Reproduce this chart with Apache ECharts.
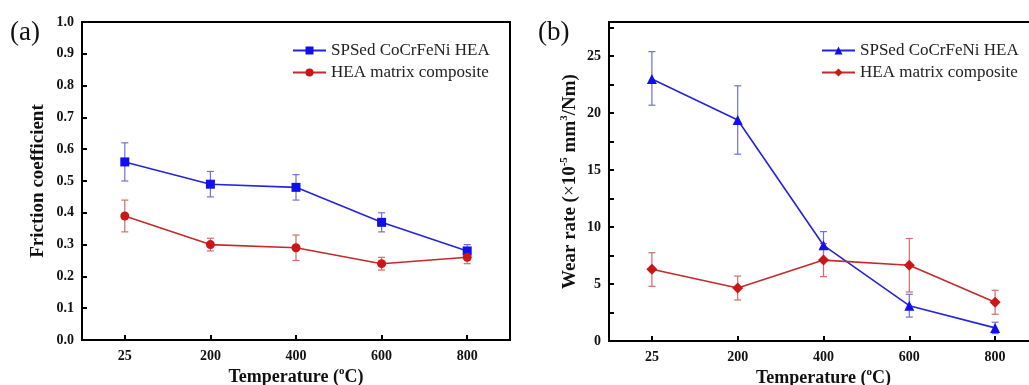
<!DOCTYPE html>
<html><head><meta charset="utf-8">
<script src="https://cdn.jsdelivr.net/npm/echarts@6/dist/echarts.min.js"></script>
<style>html,body{margin:0;padding:0;background:#fff}#c{width:1029px;height:385px}</style>
</head><body><div id="c"></div>
<script>
const categories = ['25', '200', '400', '600', '800'];
const frictionTicks = [0, 1.0, 0.1];
const wearTicks = [0, 28, 5];

const frictionHEA = [0.56, 0.49, 0.48, 0.37, 0.28];
const frictionHEALow = [0.50, 0.45, 0.44, 0.34, 0.26];
const frictionHEAHigh = [0.62, 0.53, 0.52, 0.40, 0.30];
const frictionComp = [0.39, 0.30, 0.29, 0.24, 0.26];
const frictionCompLow = [0.34, 0.28, 0.25, 0.22, 0.24];
const frictionCompHigh = [0.44, 0.32, 0.33, 0.26, 0.28];

const wearHEA = [23.0, 19.4, 8.4, 3.1, 1.15];
const wearHEALow = [20.7, 16.4, 7.2, 2.1, 0.65];
const wearHEAHigh = [25.4, 22.4, 9.6, 4.1, 1.65];
const wearComp = [6.3, 4.65, 7.1, 6.65, 3.4];
const wearCompLow = [4.8, 3.6, 5.65, 4.3, 2.35];
const wearCompHigh = [7.75, 5.7, 8.55, 9.0, 4.45];

const BLUE = '#1010ee', BLUE_LINE = '#2424dc', BLUE_ERR = '#7070d8';
const RED = '#cc1515', RED_LINE = '#c42a2a', RED_ERR = '#d46a6a';
const FONT = '"Liberation Serif", "Times New Roman", serif';

function errData(lo, hi) { return lo.map((v, i) => [i, v, hi[i]]); }
function errSeries(xi, yi, lo, hi, color) {
  return {
    type: 'custom', xAxisIndex: xi, yAxisIndex: yi, z: 1, silent: true,
    encode: { x: 0, y: [1, 2] },
    data: errData(lo, hi),
    renderItem: function (params, api) {
      const x = api.value(0);
      const p1 = api.coord([x, api.value(2)]);
      const p2 = api.coord([x, api.value(1)]);
      const w = 3.5;
      const st = { stroke: color, lineWidth: 1.2 };
      return { type: 'group', children: [
        { type: 'line', shape: { x1: p1[0], y1: p1[1], x2: p2[0], y2: p2[1] }, style: st },
        { type: 'line', shape: { x1: p1[0] - w, y1: p1[1], x2: p1[0] + w, y2: p1[1] }, style: st },
        { type: 'line', shape: { x1: p2[0] - w, y1: p2[1], x2: p2[0] + w, y2: p2[1] }, style: st }
      ]};
    }
  };
}
function lineSeries(name, xi, yi, data, symbol, size, color, lineColor) {
  return {
    name: name, type: 'line', xAxisIndex: xi, yAxisIndex: yi, z: 3,
    data: data, symbol: symbol, symbolSize: size, showSymbol: true,
    itemStyle: { color: color, borderWidth: 0 },
    lineStyle: { color: lineColor, width: 1.6 },
    animation: false
  };
}
const axisLineStyle = { show: true, lineStyle: { color: '#000', width: 2 } };
const supStyle = { fontFamily: FONT, fontWeight: 'bold', fontSize: 11, color: '#111', verticalAlign: 'top', lineHeight: 12, padding: [0, 0, 0, 0] };
function xAxis(gi) {
  return {
    type: 'category', gridIndex: gi, data: categories, boundaryGap: true,
    axisLine: axisLineStyle,
    axisTick: { show: true, inside: true, alignWithLabel: true, length: 5, lineStyle: { color: '#000', width: 2 } },
    axisLabel: { fontFamily: FONT, fontWeight: 'bold', fontSize: 14, color: '#111', margin: 9 },
    name: '{t|Temperature (}{s|o}{t|C)}', nameLocation: 'middle', nameGap: 26, nameMoveOverlap: false,
    nameTextStyle: { rich: {
      t: { fontFamily: FONT, fontWeight: 'bold', fontSize: 18, color: '#111', lineHeight: 22 },
      s: supStyle
    } },
    splitLine: { show: false }
  };
}
const option = {
  animation: false,
  backgroundColor: '#fff',
  grid: [
    { left: 82, top: 22, width: 428, height: 318, show: true, borderColor: '#000', borderWidth: 2,
      containLabel: false, outerBoundsMode: 'none' },
    { left: 609, top: 22, width: 429, height: 319, show: true, borderColor: '#000', borderWidth: 2,
      containLabel: false, outerBoundsMode: 'none' }
  ],
  xAxis: [xAxis(0), xAxis(1)],
  yAxis: [
    {
      type: 'value', gridIndex: 0, min: frictionTicks[0], max: frictionTicks[1], interval: frictionTicks[2],
      axisLine: axisLineStyle,
      axisTick: { show: true, inside: true, length: 5, lineStyle: { color: '#000', width: 2 } },
      axisLabel: { fontFamily: FONT, fontWeight: 'bold', fontSize: 14, color: '#111', margin: 8,
        formatter: v => v.toFixed(1) },
      splitLine: { show: false },
      name: 'Friction coefficient', nameLocation: 'middle', nameGap: 34, nameMoveOverlap: false,
      nameTextStyle: { fontFamily: FONT, fontWeight: 'bold', fontSize: 19, color: '#111' }
    },
    {
      type: 'value', gridIndex: 1, min: wearTicks[0], max: wearTicks[1], interval: wearTicks[2],
      axisLine: axisLineStyle,
      axisTick: { show: true, inside: true, length: 5, lineStyle: { color: '#000', width: 2 } },
      minorTick: { show: true, splitNumber: 2, length: 5, lineStyle: { color: '#000', width: 2 } },
      axisLabel: { fontFamily: FONT, fontWeight: 'bold', fontSize: 14, color: '#111', margin: 8,
        showMaxLabel: false },
      splitLine: { show: false },
      name: '{t|Wear rate (}{n|×}{t|10}{s|-5}{t| mm}{s|3}{t|/Nm)}', nameLocation: 'middle', nameGap: 28, nameMoveOverlap: false,
      nameTextStyle: { rich: {
        t: { fontFamily: FONT, fontWeight: 'bold', fontSize: 19, color: '#111', lineHeight: 22 },
        n: { fontFamily: FONT, fontWeight: 'normal', fontSize: 19, color: '#111', lineHeight: 22 },
        s: supStyle
      } }
    }
  ],
  legend: [
    {
      left: 287, top: 37, orient: 'vertical', itemWidth: 33, itemHeight: 10, itemGap: 5,
      data: ['SPSed CoCrFeNi HEA', 'HEA matrix composite'],
      textStyle: { fontFamily: FONT, fontSize: 17, color: '#222', padding: [0, 0, 0, 0] },
      selectedMode: false
    },
    {
      left: 816, top: 37, orient: 'vertical', itemWidth: 33, itemHeight: 10, itemGap: 5,
      data: ['b:SPSed CoCrFeNi HEA', 'b:HEA matrix composite'],
      formatter: n => n.replace(/^b:/, ''),
      textStyle: { fontFamily: FONT, fontSize: 17, color: '#222', padding: [0, 0, 0, 0] },
      selectedMode: false
    }
  ],
  graphic: [
    { type: 'text', left: 10, top: 19, style: { text: '(a)', fontFamily: FONT, fontSize: 27, fill: '#111' } },
    { type: 'text', left: 538, top: 19, style: { text: '(b)', fontFamily: FONT, fontSize: 27, fill: '#111' } }
  ],
  series: [
    errSeries(0, 0, frictionHEALow, frictionHEAHigh, BLUE_ERR),
    errSeries(0, 0, frictionCompLow, frictionCompHigh, RED_ERR),
    lineSeries('SPSed CoCrFeNi HEA', 0, 0, frictionHEA, 'rect', 9, BLUE, BLUE_LINE),
    lineSeries('HEA matrix composite', 0, 0, frictionComp, 'circle', 9, RED, RED_LINE),
    errSeries(1, 1, wearHEALow, wearHEAHigh, BLUE_ERR),
    errSeries(1, 1, wearCompLow, wearCompHigh, RED_ERR),
    lineSeries('b:SPSed CoCrFeNi HEA', 1, 1, wearHEA, 'triangle', 10, BLUE, BLUE_LINE),
    lineSeries('b:HEA matrix composite', 1, 1, wearComp, 'diamond', 11, RED, RED_LINE)
  ]
};
const chart = echarts.init(document.getElementById('c'), null, { renderer: 'canvas' });
chart.setOption(option);
</script>
</body></html>
